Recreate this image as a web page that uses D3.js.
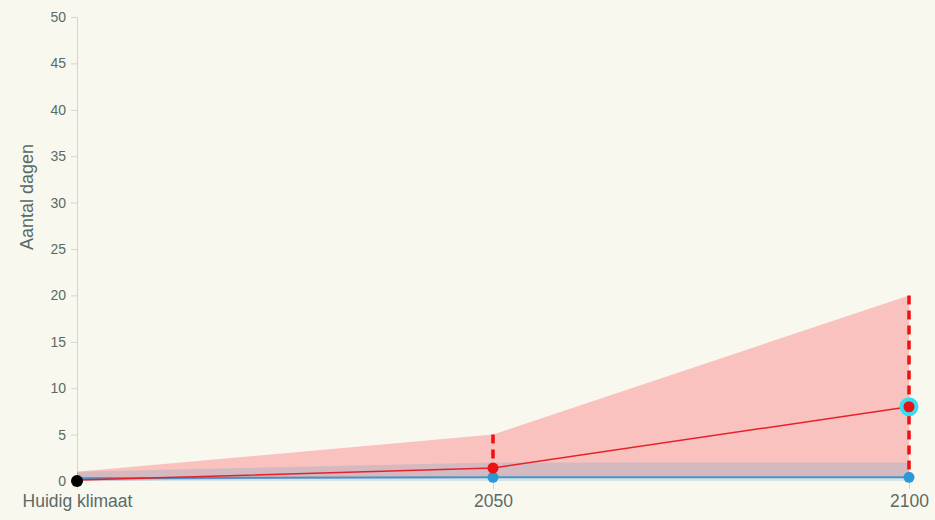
<!DOCTYPE html>
<html><head><meta charset="utf-8">
<script src="https://cdn.jsdelivr.net/npm/d3@7"></script>
<style>body{margin:0;background:#f9f8ef;} svg{display:block;font-family:"Helvetica Neue",Arial,"Liberation Sans",sans-serif;}</style>
</head><body>
<svg id="c" width="935" height="520"></svg>
<script>
const categories = ["Huidig klimaat", "2050", "2100"];
const redMid = [0.1, 1.4, 8];
const redLow = [0, 0.5, 0.5];
const redHigh = [1, 5, 20];
const blueMid = [0.3, 0.4, 0.4];
const blueLow = [0, 0, 0];
const blueHigh = [1, 2, 2];
const yTicks = [0, 5, 10, 15, 20, 25, 30, 35, 40, 45, 50];

const svg = d3.select("#c");
const x = d3.scalePoint().domain(categories).range([77, 909]);
const y = d3.scaleLinear().domain([0, 50]).range([481, 17]);
const txt = "#5a6b67";

// y axis
const ya = svg.append("g").attr("transform", "translate(77,0)")
  .call(d3.axisLeft(y).tickValues(yTicks).tickSize(6).tickPadding(5));
ya.select(".domain").attr("stroke", "#d4d4d4");
ya.selectAll(".tick line").attr("stroke", "#d4d4d4");
ya.selectAll("text").attr("fill", txt).style("font-size", "14px");

svg.append("text").attr("transform", "translate(33,197) rotate(-90)")
  .attr("text-anchor", "middle").attr("fill", txt).style("font-size", "18px").text("Aantal dagen");

// x ticks
const xa = svg.append("g").attr("transform", "translate(0,481)")
  .call(d3.axisBottom(x).tickSize(8).tickPadding(6));
xa.select(".domain").remove();
xa.selectAll(".tick line").attr("stroke", "#d4d4d4");
xa.selectAll("text").attr("fill", txt).style("font-size", "17.5px");

const idx = d3.range(categories.length);
const area = (lo, hi) => d3.area().x(i => x(categories[i])).y0(i => y(lo[i])).y1(i => y(hi[i]));
const line = (v) => d3.line().x(i => x(categories[i])).y(i => y(v[i]));

svg.append("path").datum(idx).attr("d", area(redLow, redHigh)).attr("fill", "#ff3640").attr("fill-opacity", 0.28);
svg.append("path").datum(idx).attr("d", area(blueLow, blueHigh)).attr("fill", "#3c96c8").attr("fill-opacity", 0.2);

// dashed ranges
svg.append("line").attr("x1", x("2050")).attr("x2", x("2050")).attr("y1", y(redHigh[1])).attr("y2", y(redMid[1]))
  .attr("stroke", "#ee1111").attr("stroke-width", 3.5).attr("stroke-dasharray", "9,6");
svg.append("line").attr("x1", x("2100")).attr("x2", x("2100")).attr("y1", y(redHigh[2])).attr("y2", y(0))
  .attr("stroke", "#ee1111").attr("stroke-width", 3.5).attr("stroke-dasharray", "9,6");

svg.append("path").datum(idx).attr("d", line(blueMid)).attr("fill", "none").attr("stroke", "#4a90c8").attr("stroke-width", 2);
svg.append("path").datum(idx).attr("d", line(redMid)).attr("fill", "none").attr("stroke", "#e8202a").attr("stroke-width", 1.5);

// points
svg.append("g").selectAll("circle").data([1, 2]).join("circle")
  .attr("cx", i => x(categories[i])).attr("cy", i => y(blueMid[i])).attr("r", 5.5).attr("fill", "#2a9ad6");
svg.append("circle").attr("cx", x(categories[1])).attr("cy", y(redMid[1])).attr("r", 5.5).attr("fill", "#ee1111");
svg.append("circle").attr("cx", x(categories[2])).attr("cy", y(redMid[2])).attr("r", 7.5).attr("fill", "#e8101a")
  .attr("stroke", "#33e0f0").attr("stroke-width", 4);
svg.append("circle").attr("cx", x(categories[0])).attr("cy", y(0)).attr("r", 6).attr("fill", "#000");
</script>
</body></html>
